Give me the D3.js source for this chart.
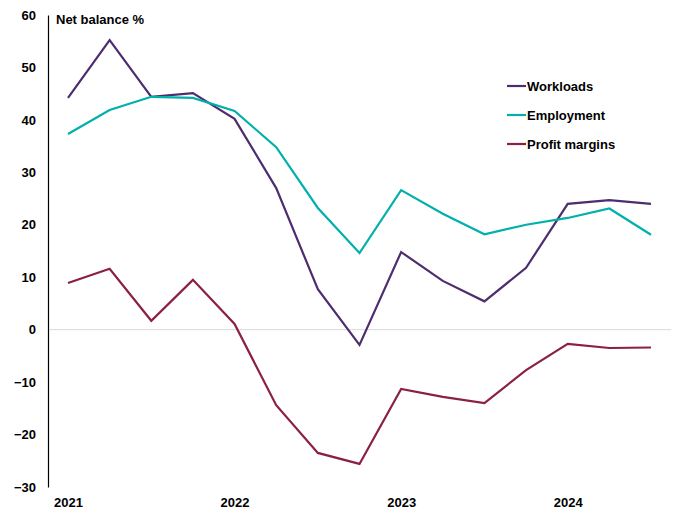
<!DOCTYPE html>
<html><head><meta charset="utf-8">
<script src="https://cdn.jsdelivr.net/npm/d3@7"></script>
<style>body{margin:0;background:#fff;}svg{display:block;font-family:"Liberation Sans",Arial,sans-serif;}</style>
</head><body><svg id="c" width="685" height="515"></svg>
<script>
const quarters = ["2021Q1","2021Q2","2021Q3","2021Q4","2022Q1","2022Q2","2022Q3","2022Q4","2023Q1","2023Q2","2023Q3","2023Q4","2024Q1","2024Q2","2024Q3"];
const workloads = [44.2,55.2,44.4,45.1,40.2,27.0,7.7,-2.9,14.8,9.3,5.4,11.8,24.0,24.7,24.0];
const employment = [37.3,41.9,44.4,44.2,41.7,34.8,23.2,14.6,26.6,22.1,18.2,20.0,21.3,23.1,18.1];
const profitMargins = [8.9,11.6,1.7,9.5,1.1,-14.4,-23.5,-25.6,-11.3,-12.8,-14.0,-7.7,-2.7,-3.5,-3.4];
const yTicks = [-30,-20,-10,0,10,20,30,40,50,60];
const yearLabels = ["2021","2022","2023","2024"];
const seriesNames = ["Workloads","Employment","Profit margins"];
const seriesColors = ["#4d2d6e","#00b0ac","#8b1f48"];

const svg = d3.select("#c");
const x = d3.scaleLinear().domain([0, 14]).range([68, 651]);
const y = d3.scaleLinear().domain([-30, 60]).range([487, 15]);

// zero line
svg.append("line").attr("x1", 48).attr("x2", 671).attr("y1", y(0)).attr("y2", y(0))
  .attr("stroke", "#d9d9d9").attr("stroke-width", 1);

// y axis
const yAxis = d3.axisLeft(y).tickValues(yTicks).tickSize(0).tickPadding(12).tickFormat(d3.format("d"));
const gy = svg.append("g").attr("transform", "translate(48,0)").call(yAxis);
gy.select(".domain").attr("stroke", "#000").attr("stroke-width", 1.2);
gy.selectAll("text").attr("font-size", 13).attr("font-weight", "bold").attr("fill", "#000")
  .attr("font-family", "'Liberation Sans',Arial,sans-serif");

// x labels
const xAxis = d3.axisBottom(x).tickValues([0,4,8,12]).tickSize(0).tickPadding(10)
  .tickFormat((d,i) => yearLabels[i]);
const gx = svg.append("g").attr("transform", "translate(0,488)").call(xAxis);
gx.select(".domain").remove();
gx.selectAll("text").attr("font-size", 13).attr("font-weight", "bold").attr("fill", "#000")
  .attr("font-family", "'Liberation Sans',Arial,sans-serif");

// title
svg.append("text").attr("x", 56).attr("y", 24).text("Net balance %")
  .attr("font-size", 13).attr("font-weight", "bold").attr("fill", "#000");

const line = d3.line().x((d,i) => x(i)).y(d => y(d));
[workloads, employment, profitMargins].forEach((s, k) => {
  svg.append("path").datum(s).attr("d", line).attr("fill", "none")
    .attr("stroke", seriesColors[k]).attr("stroke-width", 2.2).attr("stroke-linejoin", "miter");
});

// legend
seriesNames.forEach((n, k) => {
  const yy = 86 + k * 29;
  svg.append("line").attr("x1", 507).attr("x2", 526).attr("y1", yy).attr("y2", yy)
    .attr("stroke", seriesColors[k]).attr("stroke-width", 2.2);
  svg.append("text").attr("x", 527).attr("y", yy + 4.5).text(n)
    .attr("font-size", 13).attr("font-weight", "bold").attr("fill", "#000");
});
</script></body></html>
